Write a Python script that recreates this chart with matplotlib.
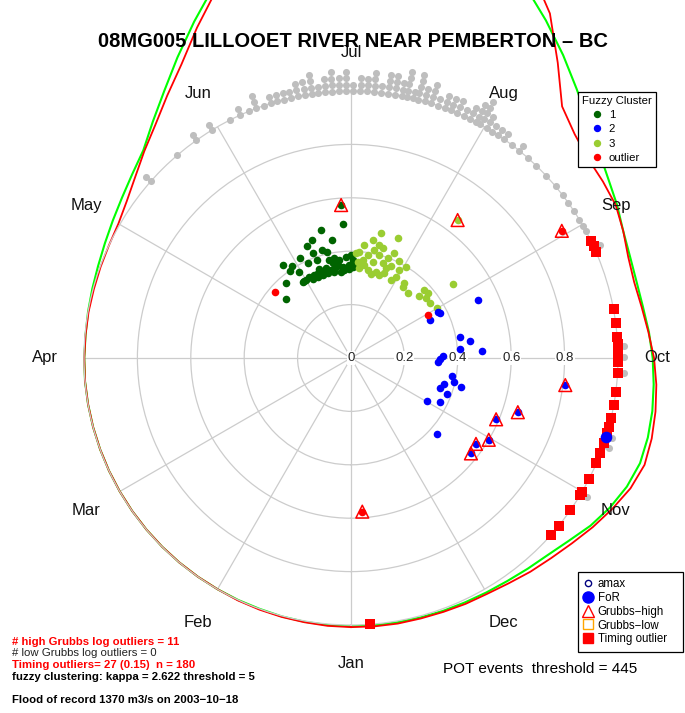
import numpy as np
import matplotlib.pyplot as plt
from matplotlib.lines import Line2D

plt.rcParams["font.family"] = ["Liberation Sans", "DejaVu Sans"]

DKGREEN = "#006400"; YGREEN = "#9ACD32"; BLUE = "#0000FF"; RED = "#FF0000"
GREY = "#BEBEBE"; GRID = "#CCCCCC"; LIME = "#00FF00"

months = ["Jan", "Feb", "Mar", "Apr", "May", "Jun",
          "Jul", "Aug", "Sep", "Oct", "Nov", "Dec"]
month_deg = np.arange(0, 360, 30)
ring_r = [0.0, 0.2, 0.4, 0.6, 0.8]
ring_lab = ["0", "0.2", "0.4", "0.6", "0.8"]

# positions on the year circle in degrees (Jan 1 = 0, clockwise) and radius
c1_deg = [176.3, 176.7, 166.8, 170.7, 161.7, 158.5, 164.8, 167.3, 160.0, 152.8,
          160.6, 155.7, 144.0, 147.3, 145.1, 149.0, 139.2, 150.0, 154.2, 132.2,
          167.5, 170.5, 173.2, 177.2, 180.0, 181.0, 179.0, 174.8, 170.6, 167.2,
          164.4, 161.8, 158.5, 156.2, 152.9, 148.9, 160.3, 169.0, 171.8, 175.7,
          178.5, 181.0, 182.0, 173.4, 169.1, 164.7, 161.2, 157.5, 154.0, 147.7]
c1_r = [0.574, 0.503, 0.492, 0.448, 0.465, 0.452, 0.419, 0.408, 0.420, 0.421,
        0.388, 0.389, 0.431, 0.409, 0.399, 0.376, 0.373, 0.337, 0.336, 0.329,
        0.376, 0.378, 0.370, 0.380, 0.386, 0.367, 0.348, 0.343, 0.344, 0.338,
        0.349, 0.340, 0.341, 0.340, 0.342, 0.338, 0.353, 0.361, 0.352, 0.331,
        0.332, 0.340, 0.355, 0.326, 0.329, 0.331, 0.328, 0.327, 0.328, 0.338]

c2_deg = [245.4, 242.4, 243.3, 244.6, 259.1, 262.0, 265.3, 266.9, 268.7, 270.6,
          272.8, 279.9, 282.9, 285.9, 288.8, 284.7, 290.6, 299.5, 296.6, 311.5,
          277.2, 288.0, 292.9, 300.7, 304.5, 308.5]
c2_r = [0.524, 0.369, 0.373, 0.329, 0.416, 0.450, 0.411, 0.491, 0.343, 0.335,
        0.327, 0.384, 0.397, 0.361, 0.353, 0.427, 0.383, 0.327, 0.371, 0.428,
        0.809, 0.657, 0.590, 0.600, 0.568, 0.574]

c3_deg = [217.7, 193.5, 201.3, 190.4, 186.7, 196.1, 192.2, 202.4, 184.5, 189.2,
          195.4, 206.4, 186.8, 192.7, 198.5, 203.5, 211.2, 185.3, 190.7, 196.1,
          201.5, 208.8, 209.0, 207.2, 215.5, 220.9, 216.5, 227.8, 227.2, 229.6,
          231.5, 235.0, 239.6, 234.0, 182.7, 184.0, 194.1, 200.2, 188.2, 201.3,
          198.8, 193.4]
c3_r = [0.653, 0.480, 0.481, 0.449, 0.426, 0.427, 0.414, 0.427, 0.399, 0.391,
        0.400, 0.407, 0.370, 0.370, 0.374, 0.376, 0.397, 0.337, 0.335, 0.337,
        0.341, 0.376, 0.348, 0.328, 0.344, 0.324, 0.329, 0.346, 0.375, 0.377,
        0.359, 0.361, 0.372, 0.471, 0.392, 0.362, 0.436, 0.398, 0.352, 0.361,
        0.328, 0.323]

out_deg = [131.0, 240.8, 238.9, 355.8]
out_r = [0.379, 0.330, 0.922, 0.577]

# Grubbs-high events
gh_deg = [176.3, 217.7, 238.9, 355.8, 277.2, 288.0, 292.9, 300.7, 304.5, 308.5]
gh_r = [0.574, 0.653, 0.922, 0.577, 0.809, 0.657, 0.590, 0.600, 0.568, 0.574]

# POT events on the outer ring: date position and number of events stacked there
pot_deg = [131.5, 139.4, 144.6, 148.6, 153.0, 155.5, 157.5, 159.2, 161.0, 162.5,
           164.0, 165.5, 167.0, 168.5, 170.0, 171.5, 173.0, 174.5, 176.0, 177.5,
           179.0, 180.5, 182.0, 183.5, 185.0, 186.5, 188.0, 189.5, 191.0, 192.0,
           193.5, 194.5, 196.0, 197.5, 199.0, 200.5, 202.0, 203.5, 205.0, 206.5,
           208.0, 209.0, 210.5, 212.0, 213.5, 215.0, 217.0, 219.0, 221.5, 224.0,
           227.0, 230.0, 232.5, 234.5, 236.5, 238.8, 240.4, 241.5, 243.8, 245.5,
           259.5, 262.4, 265.4, 267.5, 269.7, 273.1, 277.4, 280.1, 283.0, 287.0,
           289.2, 293.2, 296.9, 300.5, 304.8, 308.9, 311.6, 355.9]
pot_n = [2, 1, 2, 2, 1, 2, 1, 3, 1, 2,
         2, 2, 2, 3, 3, 4, 2, 3, 4, 3,
         4, 2, 3, 3, 4, 2, 4, 4, 3, 5,
         2, 5, 3, 4, 2, 3, 3, 3, 2, 3,
         4, 5, 3, 2, 2, 2, 1, 2, 1, 1,
         1, 1, 1, 1, 1, 1, 1, 1, 1, 2,
         1, 1, 1, 2, 2, 2, 1, 1, 1, 2,
         2, 1, 1, 2, 1, 1, 1, 1]

# timing outliers
tim_deg = [244.0, 245.3, 246.5, 259.5, 262.4, 265.4, 266.9, 267.5, 268.2, 269.7,
           270.8, 273.3, 277.4, 280.1, 283.0, 284.9, 286.4, 288.6, 290.9, 293.2,
           296.9, 300.0, 300.9, 304.8, 308.9, 311.6, 355.9]

for_deg = 287.1   # flood of record 2003-10-18

# density curves around the year (every 5 deg)
dens_deg = np.arange(0, 360, 5)
dens_green = [1.005, 1.004, 1.003, 1.002, 1.0, 1.0, 1.0, 1.0, 1.0, 1.0,
              1.0, 1.0, 1.0, 1.0, 1.0, 1.0, 1.0, 1.0, 0.999, 0.998,
              1.0, 1.003, 1.008, 1.017, 1.03, 1.047, 1.07, 1.10, 1.155, 1.22,
              1.30, 1.39, 1.49, 1.58, 1.66, 1.72, 1.76, 1.77, 1.75, 1.70,
              1.63, 1.54, 1.46, 1.385, 1.315, 1.255, 1.21, 1.175, 1.15, 1.125,
              1.112, 1.107, 1.11, 1.12, 1.13, 1.138, 1.146, 1.151, 1.152, 1.14,
              1.12, 1.095, 1.065, 1.043, 1.03, 1.02, 1.014, 1.01, 1.008, 1.006,
              1.005, 1.005]
dens_red = [1.008, 1.007, 1.005, 1.004, 1.003, 1.002, 1.0, 1.0, 1.0, 1.0,
            1.0, 1.0, 1.0, 1.0, 1.0, 1.0, 1.0, 1.0, 0.999, 0.998,
            0.998, 0.997, 0.998, 1.0, 1.006, 1.025, 1.055, 1.095, 1.14, 1.20,
            1.27, 1.365, 1.47, 1.57, 1.67, 1.75, 1.80, 1.82, 1.81, 1.78,
            1.72, 1.60, 1.49, 1.35, 1.23, 1.185, 1.16, 1.152, 1.145, 1.125,
            1.105, 1.098, 1.105, 1.118, 1.135, 1.148, 1.158, 1.166, 1.17, 1.155,
            1.13, 1.105, 1.08, 1.06, 1.045, 1.03, 1.02, 1.016, 1.012, 1.01,
            1.01, 1.009]

stack_step = 0.024

fig = plt.figure(figsize=(6.85, 7.13), dpi=100)
cx, cy, R = 351, 358, 267
ax = fig.add_axes([(cx - R) / 685, (713 - cy - R) / 713, 2 * R / 685, 2 * R / 713],
                  projection="polar")
ax.set_theta_zero_location("S")
ax.set_theta_direction(-1)
ax.set_ylim(0, 1)
ax.set_xticks(np.deg2rad(month_deg)); ax.set_xticklabels([])
ax.set_yticks([0.2, 0.4, 0.6, 0.8]); ax.set_yticklabels([])
ax.tick_params(length=0)
ax.grid(True, color=GRID, lw=0.9)
ax.spines["polar"].set_color(GRID)
ax.spines["polar"].set_linewidth(0.9)
ax.set_facecolor("none")

rad = lambda d: np.deg2rad(np.asarray(d, dtype=float))

# density curves
th = np.append(dens_deg, 360)
ax.plot(rad(th), np.append(dens_green, dens_green[0]), color=LIME, lw=1.5, clip_on=False, zorder=2)
ax.plot(rad(th), np.append(dens_red, dens_red[0]), color=RED, lw=1.3, clip_on=False, zorder=2)

# POT events stacked outward
gd, gr = [], []
for d, n in zip(pot_deg, pot_n):
    for k in range(n):
        gd.append(d); gr.append(1.0 + k * stack_step)
ax.scatter(rad(gd), gr, s=26, color=GREY, lw=0, clip_on=False, zorder=3)

# clusters
ax.scatter(rad(c1_deg), c1_r, s=30, color=DKGREEN, lw=0, zorder=4)
ax.scatter(rad(c3_deg), c3_r, s=30, color=YGREEN, lw=0, zorder=4)
ax.scatter(rad(c2_deg), c2_r, s=30, color=BLUE, lw=0, zorder=4)
ax.scatter(rad(out_deg), out_r, s=30, color=RED, lw=0, zorder=4)
ax.scatter(rad(gh_deg), gh_r, s=85, marker="^", facecolor="none", edgecolor=RED, lw=1.1, zorder=5)

# timing outliers and flood of record
ax.scatter(rad(tim_deg), np.ones(len(tim_deg)), s=48, marker="s", color=RED, lw=0,
           clip_on=False, zorder=6)
ax.scatter(rad([for_deg]), [1.0], s=70, color=BLUE, lw=0, clip_on=False, zorder=7)

# month labels and ring labels
for d, m in zip(month_deg, months):
    ax.text(rad(d), 1.145, m, ha="center", va="center", fontsize=12, color="#111")
for r, lab in zip(ring_r, ring_lab):
    ax.text(rad(270), r, lab, ha="center", va="center", fontsize=9.5, color="#222",
            bbox=dict(fc="white", ec="none", pad=0.6), zorder=3)

fig.text(352.7 / 685, 1 - 41.5 / 713, "08MG005 LILLOOET RIVER NEAR PEMBERTON \u2013 BC",
         ha="center", va="center", fontsize=14.5, fontweight="bold")

h1 = [Line2D([], [], ls="none", marker="o", ms=4.3, color=c) for c in (DKGREEN, BLUE, YGREEN, RED)]
lg1 = fig.legend(h1, ["1", "2", "3", "outlier"], title="Fuzzy Cluster", loc="upper left",
                 bbox_to_anchor=(578 / 685, 1 - 92 / 713), borderaxespad=0,
                 fontsize=8.2, title_fontsize=8.2, alignment="left", fancybox=False,
                 edgecolor="black", framealpha=1, borderpad=0.35, handlelength=2.6,
                 handletextpad=-0.25, labelspacing=0.37)
lg1.get_frame().set_linewidth(0.9)

h2 = [Line2D([], [], ls="none", marker="o", ms=4.5, mfc="none", mec="navy", mew=1),
      Line2D([], [], ls="none", marker="o", ms=8, color=BLUE),
      Line2D([], [], ls="none", marker="^", ms=9, mfc="none", mec=RED, mew=1),
      Line2D([], [], ls="none", marker="s", ms=7, mfc="none", mec="orange", mew=1),
      Line2D([], [], ls="none", marker="s", ms=7, color=RED)]
lg2 = fig.legend(h2, ["amax", "FoR", "Grubbs\u2212high", "Grubbs\u2212low", "Timing outlier   "],
                 loc="upper left", bbox_to_anchor=(578 / 685, 1 - 572 / 713), borderaxespad=0,
                 fontsize=8.3, fancybox=False, edgecolor="black", framealpha=1,
                 borderpad=0.55, handlelength=0.7, handletextpad=0.47, labelspacing=0.15)
lg2.get_frame().set_linewidth(0.9)

fig.text(540 / 685, 1 - 669 / 713, "POT events  threshold = 445", ha="center", va="center",
         fontsize=11)

info = [("# high Grubbs log outliers = 11", RED, "bold", 641.7),
        ("# low Grubbs log outliers = 0", "#222", "normal", 653.3),
        ("Timing outliers= 27 (0.15)  n = 180", RED, "bold", 665.0),
        ("fuzzy clustering: kappa = 2.622 threshold = 5", "black", "bold", 677.3),
        ("Flood of record 1370 m3/s on 2003\u221210\u221218", "black", "bold", 700.0)]
for txt, col, fw, y in info:
    fig.text(12 / 685, 1 - y / 713, txt, color=col, fontweight=fw, fontsize=8.2,
             ha="left", va="center")

fig.savefig("out.png", dpi=100, facecolor="white")
